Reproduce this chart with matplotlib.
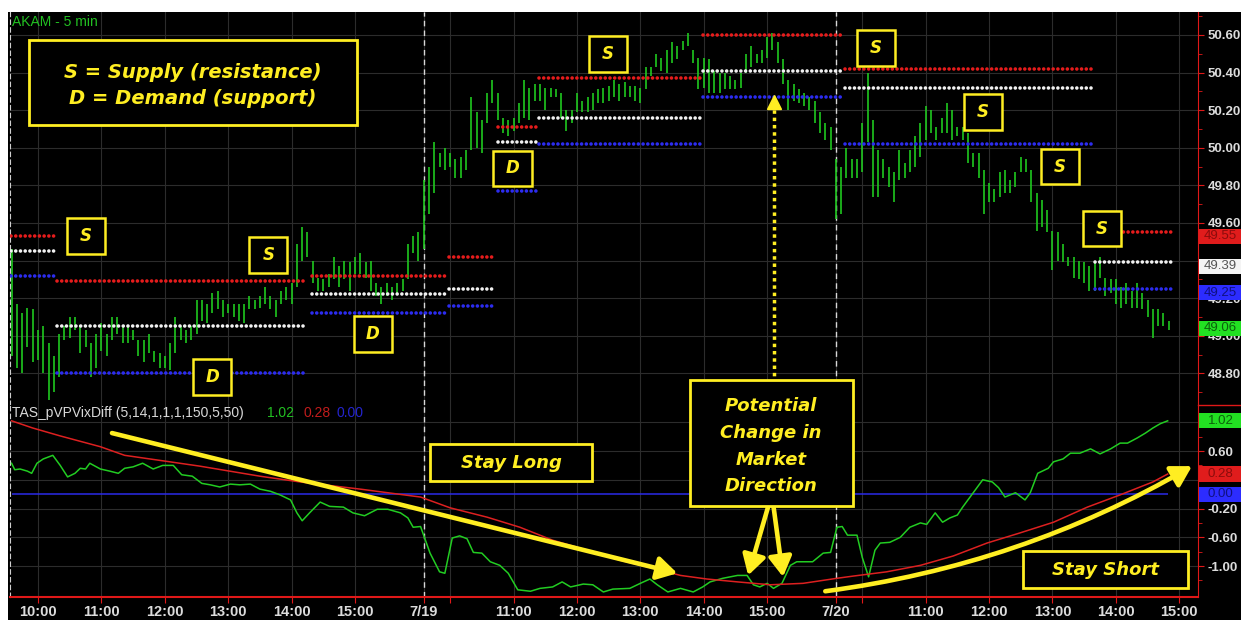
import numpy as np
import matplotlib.pyplot as plt
import matplotlib.transforms as mtransforms
from matplotlib.patches import Rectangle
from matplotlib.lines import Line2D

plt.rcParams['font.family'] = ['Liberation Sans', 'DejaVu Sans']

# ---- AKAM 5 min bars: high / low of each bar, one list per session
day1_hi = [49.46, 49.17, 49.12, 49.15, 49.14, 49.03, 49.05, 48.96, 48.89, 49.01,
           49.05, 49.10, 49.10, 49.05, 49.03, 48.96, 49.01, 49.07, 49.01, 49.10,
           49.10, 49.05, 49.05, 49.03, 48.98, 48.98, 49.01, 48.92, 48.91, 48.89,
           48.96, 49.10, 49.05, 49.03, 49.05, 49.19, 49.19, 49.17, 49.23, 49.24,
           49.19, 49.17, 49.17, 49.17, 49.17, 49.21, 49.19, 49.21, 49.26, 49.21,
           49.19, 49.24, 49.26, 49.28, 49.49, 49.58, 49.55, 49.40, 49.31, 49.30,
           49.33, 49.42, 49.37, 49.40, 49.39, 49.42, 49.44, 49.39, 49.40, 49.28,
           49.26, 49.28, 49.26, 49.28, 49.30, 49.49, 49.53, 49.55]
day1_lo = [48.89, 48.83, 48.80, 48.94, 48.86, 48.87, 48.80, 48.66, 48.70, 48.78,
           48.98, 48.99, 49.03, 48.91, 48.94, 48.78, 48.83, 48.92, 48.89, 48.98,
           49.01, 48.96, 48.96, 48.98, 48.89, 48.86, 48.91, 48.86, 48.83, 48.83,
           48.82, 48.91, 48.98, 48.96, 48.98, 49.01, 49.08, 49.07, 49.12, 49.14,
           49.10, 49.12, 49.10, 49.08, 49.07, 49.14, 49.14, 49.15, 49.17, 49.14,
           49.10, 49.17, 49.19, 49.17, 49.26, 49.40, 49.42, 49.28, 49.24, 49.24,
           49.26, 49.30, 49.26, 49.30, 49.24, 49.33, 49.33, 49.31, 49.24, 49.21,
           49.17, 49.21, 49.19, 49.23, 49.24, 49.30, 49.44, 49.40]
day2_hi = [49.83, 49.90, 50.03, 49.97, 50.00, 49.97, 49.94, 49.95, 49.99, 50.27,
           50.19, 50.15, 50.29, 50.36, 50.29, 50.16, 50.15, 50.16, 50.24, 50.36,
           50.32, 50.34, 50.34, 50.32, 50.32, 50.31, 50.29, 50.20, 50.20, 50.29,
           50.25, 50.27, 50.29, 50.31, 50.32, 50.33, 50.36, 50.34, 50.35,
           50.33, 50.33, 50.32, 50.43, 50.43, 50.50, 50.48, 50.52, 50.56,
           50.54, 50.57, 50.61, 50.52, 50.48, 50.48, 50.47, 50.41, 50.40, 50.40,
           50.38, 50.36, 50.40, 50.50, 50.54, 50.50, 50.52, 50.59, 50.61, 50.56,
           50.47, 50.36, 50.34, 50.31, 50.29, 50.27, 50.25, 50.19, 50.13, 50.11]
day2_lo = [49.46, 49.65, 49.76, 49.90, 49.88, 49.90, 49.84, 49.84, 49.88, 49.99,
           50.00, 49.97, 50.13, 50.24, 50.15, 50.08, 50.06, 50.09, 50.13, 50.16,
           50.15, 50.25, 50.25, 50.20, 50.27, 50.27, 50.16, 50.09, 50.13, 50.19,
           50.19, 50.19, 50.20, 50.24, 50.24, 50.25, 50.27, 50.25, 50.27,
           50.27, 50.25, 50.24, 50.31, 50.38, 50.43, 50.41, 50.40, 50.45,
           50.47, 50.52, 50.54, 50.45, 50.31, 50.32, 50.29, 50.29, 50.29, 50.31,
           50.31, 50.31, 50.32, 50.40, 50.43, 50.45, 50.45, 50.48, 50.52, 50.45,
           50.34, 50.20, 50.25, 50.24, 50.22, 50.20, 50.13, 50.08, 50.04, 49.99]
day3_hi = [49.94, 49.90, 50.00, 49.94, 49.94, 50.13, 50.40, 50.15, 49.99, 49.94,
           49.90, 49.87, 49.99, 49.92, 49.99, 50.06, 50.13, 50.22, 50.20, 50.11,
           50.16, 50.24, 50.20, 50.11, 50.11, 50.08, 49.97, 49.97, 49.88, 49.81,
           49.78, 49.87, 49.88, 49.83, 49.87, 49.95, 49.94, 49.88, 49.76, 49.72,
           49.67, 49.56, 49.55, 49.49, 49.42, 49.42, 49.40, 49.39, 49.37, 49.40,
           49.42, 49.31, 49.30, 49.30, 49.26, 49.28, 49.24, 49.28, 49.23, 49.19,
           49.14, 49.14, 49.12, 49.08]
day3_lo = [49.62, 49.65, 49.84, 49.84, 49.84, 49.87, 50.03, 49.74, 49.74, 49.84,
           49.79, 49.71, 49.83, 49.84, 49.87, 49.90, 49.95, 50.04, 50.08, 50.04,
           50.08, 50.08, 50.04, 50.06, 50.04, 49.92, 49.90, 49.84, 49.65, 49.71,
           49.71, 49.74, 49.76, 49.76, 49.79, 49.87, 49.87, 49.71, 49.56, 49.58,
           49.55, 49.35, 49.40, 49.39, 49.37, 49.31, 49.30, 49.28, 49.24, 49.24,
           49.31, 49.21, 49.23, 49.17, 49.15, 49.17, 49.15, 49.15, 49.14, 49.10,
           48.99, 49.05, 49.05, 49.03]
last_price = 49.06

# ---- supply / demand levels (minutes from 9:30 of 7/18, trading time)
lvl_start = [4, 48, 289, 419, 465, 504, 659, 794, 1030]
lvl_end = [46, 285, 417, 463, 502, 656, 792, 1028, 1103]
lvl_red = [49.53, 49.29, 49.32, 49.42, 50.11, 50.37, 50.60, 50.42, 49.55]
lvl_white = [49.45, 49.05, 49.22, 49.25, 50.03, 50.16, 50.41, 50.32, 49.39]
lvl_blue = [49.32, 48.80, 49.12, 49.16, 49.77, 50.02, 50.27, 50.02, 49.25]

sd_labels = ['S', 'S', 'D', 'D', 'D', 'S', 'S', 'S', 'S', 'S']
sd_t = [75, 248, 195, 347, 479, 569, 823, 924, 997, 1037]
sd_p = [49.53, 49.43, 48.78, 49.01, 49.89, 50.50, 50.53, 50.19, 49.90, 49.57]

# ---- TAS_pVPVixDiff indicator
osc_t = [5, 8, 13, 20, 24, 29, 35, 44, 51, 58, 65, 70, 75, 79, 89, 98, 106, 112,
         120, 129, 139, 148, 158, 166, 176, 185, 193, 202, 212, 221, 231, 240,
         250, 259, 269, 275, 280, 287, 297, 306, 319, 328, 339, 351, 361, 373,
         380, 385, 392, 401, 410, 415, 422, 429, 436, 442, 450, 458, 467, 475,
         484, 496, 505, 517, 526, 534, 546, 555, 565, 574, 590, 600, 609, 616,
         626, 638, 650, 659, 666, 678, 692, 701, 707, 713, 720, 726, 734, 742,
         748, 763, 773, 780, 786, 791, 796, 805, 810, 816, 822, 827, 836, 846,
         855, 865, 871, 879, 886, 893, 900, 905, 915, 924, 933, 939, 945, 955,
         964, 969, 976, 986, 991, 1000, 1007, 1016, 1026, 1035, 1045, 1054,
         1061, 1070, 1078, 1085, 1092, 1099]
osc_v = [0.43, 0.34, 0.35, 0.32, 0.29, 0.43, 0.49, 0.54, 0.40, 0.24, 0.29, 0.36,
         0.35, 0.43, 0.35, 0.32, 0.29, 0.36, 0.38, 0.43, 0.35, 0.40, 0.40, 0.27,
         0.25, 0.15, 0.13, 0.10, 0.14, 0.13, 0.14, 0.07, 0.04, -0.01, -0.08,
         -0.26, -0.37, -0.26, -0.11, -0.17, -0.18, -0.26, -0.30, -0.21, -0.21,
         -0.26, -0.33, -0.46, -0.45, -0.82, -1.08, -1.10, -0.61, -0.58, -0.62,
         -0.81, -0.82, -0.94, -0.99, -1.10, -1.33, -1.35, -1.31, -1.29, -1.22,
         -1.29, -1.25, -1.26, -1.36, -1.32, -1.31, -1.24, -1.18, -1.26, -1.36,
         -1.31, -1.36, -1.29, -1.22, -1.17, -1.13, -1.13, -1.26, -1.29, -1.24,
         -1.31, -1.24, -0.99, -0.94, -0.94, -0.82, -0.81, -0.46, -0.45, -0.57,
         -0.57, -0.88, -1.15, -0.78, -0.68, -0.67, -0.60, -0.46, -0.40, -0.42,
         -0.26, -0.39, -0.33, -0.29, -0.18, 0.02, 0.20, 0.17, 0.09, -0.04, 0.02,
         -0.08, 0.02, 0.29, 0.36, 0.45, 0.49, 0.57, 0.57, 0.63, 0.56, 0.63, 0.71,
         0.71, 0.78, 0.85, 0.92, 0.98, 1.02]
sig_t = [5, 25, 51, 89, 112, 150, 183, 240, 278, 335, 392, 420, 455, 486, 517,
         550, 581, 612, 638, 663, 692, 723, 754, 786, 801, 833, 865, 896, 928,
         959, 991, 1023, 1054, 1085, 1099]
sig_v = [1.02, 0.92, 0.81, 0.66, 0.54, 0.46, 0.39, 0.25, 0.17, 0.07, -0.04,
         -0.19, -0.32, -0.46, -0.64, -0.78, -0.92, -1.03, -1.13, -1.18, -1.22,
         -1.26, -1.24, -1.17, -1.14, -1.08, -0.99, -0.86, -0.68, -0.54, -0.39,
         -0.18, -0.01, 0.17, 0.28]

day_labels = ['7/19', '7/20']
hour_labels = ['10:00', '11:00', '12:00', '13:00', '14:00', '15:00']
price_ticks = [48.80, 49.00, 49.20, 49.40, 49.60, 49.80, 50.00, 50.20, 50.40, 50.60]
price_tick_labels = ['48.80', '49.00', '49.20', '', '49.60', '49.80', '50.00', '50.20', '50.40', '50.60']
osc_ticks = [1.0, 0.6, 0.2, -0.2, -0.6, -1.0]
osc_tick_labels = ['', '0.60', '', '-0.20', '-0.60', '-1.00']

W, H = 1241, 620
YEL = '#ffee22'
RED = '#e01818'
GRID = '#2c2c2c'
LBL = '#dcdcdc'

fig = plt.figure(figsize=(W / 100, H / 100), dpi=100, facecolor='white')
fig.add_artist(Rectangle((8 / W, 0), 1 - 8 / W, 1 - 12 / H, transform=fig.transFigure,
                         fc='black', ec='none', zorder=-10))

ax1 = fig.add_axes([10 / W, 1 - 405 / H, 1188 / W, 393 / H], facecolor='black')
ax2 = fig.add_axes([10 / W, 1 - 597 / H, 1188 / W, 192 / H], facecolor='black', sharex=ax1)

# bars
for d, (hi, lo) in enumerate([(day1_hi, day1_lo), (day2_hi, day2_lo), (day3_hi, day3_lo)]):
    t = d * 390 + 5 * (np.arange(len(hi)) + 1)
    ax1.vlines(t, lo, hi, color='#1fc81f', lw=1.2, zorder=3)

# dotted supply / demand levels
dots = (0, (0.01, 1.3))
for levels, col in [(lvl_red, '#e61c1c'), (lvl_white, '#f2f2f2'), (lvl_blue, '#2c2cf0')]:
    lc = ax1.hlines(levels, lvl_start, lvl_end, colors=col, lw=2.6, linestyles=dots, zorder=4)
    lc.set_capstyle('round')

# S / D boxes
for lab, t, p in zip(sd_labels, sd_t, sd_p):
    ax1.add_patch(Rectangle((t - 18, p - 0.095), 36, 0.19, fc='black', ec=YEL, lw=1.8, zorder=6))
    ax1.text(t, p, lab, color=YEL, fontsize=12, weight='bold', style='italic',
             family='DejaVu Sans', ha='center', va='center', zorder=7)

# indicator
ax2.plot(osc_t, osc_v, color='#22cc22', lw=1.1, zorder=3)
ax2.plot(sig_t, sig_v, color='#dd2020', lw=1.1, zorder=3)
ax2.hlines(0, osc_t[0], osc_t[-1], color='#2a2ae8', lw=1.1, zorder=2)

# axes styling
hours = [d * 390 + 30 + 60 * k for d in range(3) for k in range(6)]
day_pos = [395, 785]
xt = sorted(hours + day_pos)
xl = []
for x in xt:
    if x in day_pos:
        xl.append(day_labels[day_pos.index(x)])
    elif x < 390:
        xl.append(hour_labels[(x - 30) // 60])
    else:
        k = ((x - 30) % 390) // 60
        xl.append('' if k == 0 else hour_labels[k])

for ax in (ax1, ax2):
    ax.set_xlim(3.5, 1127.7)
    ax.set_xticks(xt)
    ax.grid(True, color=GRID, lw=0.8)
    ax.set_axisbelow(True)
    ax.yaxis.tick_right()
    ax.spines['top'].set_visible(False)
    ax.spines['right'].set_color(RED)
    ax.spines['left'].set_color('#cfcfcf')
    ax.spines['left'].set_linestyle((0, (4, 3)))
    ax.tick_params(axis='y', which='both', color=RED, labelcolor=LBL, labelsize=9.5,
                   direction='out', length=4, pad=3)
    ax.tick_params(axis='y', which='minor', length=3)
    for x in day_pos:
        ax.axvline(x, color='#d8d8d8', lw=1, ls=(0, (4, 3)), zorder=2)

ax1.spines['bottom'].set_visible(False)
ax1.tick_params(axis='x', length=0, labelbottom=False)
ax1.set_ylim(48.632, 50.722)
ax1.set_yticks(price_ticks)
ax1.set_yticks(np.arange(48.7, 50.71, 0.1), minor=True)
ax1.set_yticklabels(price_tick_labels, fontweight='bold')

ax2.spines['bottom'].set_color(RED)
ax2.spines['bottom'].set_linewidth(1.5)
ax2.set_ylim(-1.43, 1.24)
ax2.set_yticks(osc_ticks)
ax2.set_yticks([0.8, 0.4, 0.0, -0.4, -0.8, -1.2], minor=True)
ax2.set_yticklabels(osc_tick_labels, fontweight='bold')
ax2.set_xticklabels(xl, fontweight='bold')
ax2.tick_params(axis='x', color=RED, labelcolor=LBL, labelsize=10.5, length=4, pad=2)

# last-value boxes on the right axis (drawn a few pixels below the value, as in the platform)
def value_box(ax, v, fc, tc, h, off):
    tr = mtransforms.blended_transform_factory(ax.transAxes, ax.transData)
    ax.add_patch(Rectangle((1.001, v - off - h / 2), 0.036, h, transform=tr, fc=fc, ec='none',
                           clip_on=False, zorder=10))
    ax.text(1.019, v - off, f'{v:.2f}', transform=tr, ha='center', va='center', color=tc,
            fontsize=9.5, clip_on=False, zorder=11)

value_box(ax1, lvl_red[-1], '#e01c1c', '#8a0c0c', 0.08, 0.02)
value_box(ax1, lvl_white[-1], '#f4f4f4', '#555555', 0.08, 0.02)
value_box(ax1, lvl_blue[-1], '#2c2cff', '#101080', 0.08, 0.02)
value_box(ax1, last_price, '#22e022', '#0c600c', 0.08, 0.02)
value_box(ax2, osc_v[-1], '#22e022', '#0c600c', 0.21, 0.0)
value_box(ax2, sig_v[-1], '#e01c1c', '#8a0c0c', 0.21, 0.0)
value_box(ax2, 0.0, '#2c2cff', '#101080', 0.21, 0.0)

fig.add_artist(Line2D([1198 / W, 1], [1 - 405 / H] * 2, transform=fig.transFigure, color=RED, lw=1))

# titles
fig.text(12 / W, 1 - 22 / H, 'AKAM - 5 min', color='#22c022', fontsize=10, va='center')
fig.text(12 / W, 1 - 413 / H, 'TAS_pVPVixDiff (5,14,1,1,1,150,5,50)', color='#d8d8d8',
         fontsize=10, va='center')
fig.text(267 / W, 1 - 413 / H, f'{osc_v[-1]:.2f}', color='#22c022', fontsize=10, va='center')
fig.text(303 / W, 1 - 413 / H, f'{sig_v[-1]:.2f}', color='#c01c1c', fontsize=10, va='center')
fig.text(337 / W, 1 - 413 / H, '0.00', color='#2424d0', fontsize=10, va='center')

# annotation arrows
arrow = dict(arrowstyle='-|>,head_length=0.6,head_width=0.35', color=YEL, lw=3.3,
             mutation_scale=20, shrinkA=0, shrinkB=0)
ax2.annotate('', xy=(635, -1.10), xytext=(100, 0.85), arrowprops=arrow, annotation_clip=False)
ax2.annotate('', xy=(702, -1.13), xytext=(721, -0.17), arrowprops=arrow, annotation_clip=False)
ax2.annotate('', xy=(735, -1.15), xytext=(726, -0.17), arrowprops=arrow, annotation_clip=False)
ax2.annotate('', xy=(1122, 0.39), xytext=(775, -1.35), annotation_clip=False,
             arrowprops=dict(arrow, connectionstyle='arc3,rad=0.1'))

ax1.plot([726, 726], [48.63, 50.22], color=YEL, lw=2.5, ls=(0, (1, 1.1)), zorder=5)
ax1.plot(726, 50.245, marker='^', ms=10, color=YEL, zorder=5)

# text boxes (figure pixels)
def fig_box(x0, y0, x1, y1):
    fig.add_artist(Rectangle((x0 / W, 1 - y1 / H), (x1 - x0) / W, (y1 - y0) / H,
                             transform=fig.transFigure, fc='black', ec=YEL, lw=2, zorder=5))

def fig_label(x, y, s, fs=13):
    fig.text(x / W, 1 - y / H, s, color=YEL, fontsize=fs, weight='bold', style='italic',
             family='DejaVu Sans', ha='center', va='center', zorder=6)

fig_box(29, 40, 357, 125)
fig_label(193, 72, 'S = Supply (resistance)', 14)
fig_label(193, 98, 'D = Demand (support)', 14)

fig_box(430, 444, 592, 481)
fig_label(511, 463, 'Stay Long')

fig_box(690, 380, 853, 506)
for y, s in zip([406, 433, 460, 486], ['Potential', 'Change in', 'Market', 'Direction']):
    fig_label(771, y, s)

fig_box(1023, 551, 1188, 588)
fig_label(1105, 570, 'Stay Short')

fig.savefig('out.png', dpi=100, facecolor=fig.get_facecolor())
